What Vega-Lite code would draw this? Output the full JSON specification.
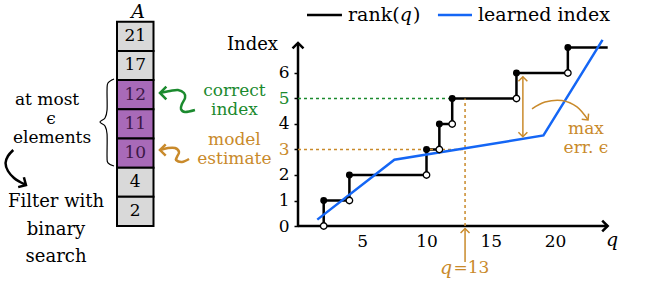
{
  "$schema": "https://vega.github.io/schema/vega-lite/v6.json",
  "width": 664,
  "height": 285,
  "autosize": {"type": "fit", "contains": "padding"},
  "padding": 0,
  "config": {"view": {"stroke": null}, "font": "DejaVu Serif", "text": {"font": "DejaVu Serif", "fontSize": 18}},
  "resolve": {"scale": {"x": "independent", "y": "independent"}},
  "layer": [
    {
      "encoding": {
        "x": {"field": "q", "type": "quantitative", "scale": {"domain": [-23.191, 28.482], "nice": false, "zero": false},
              "axis": {"title": null, "values": [5, 10, 15, 20], "domain": false, "ticks": false, "tickSize": 0, "grid": false, "offset": -59, "labelPadding": 7,
                       "labelFont": "DejaVu Serif", "labelFontSize": 17, "labelColor": "#000", "labelFlush": false, "labelOverlap": false}},
        "y": {"field": "idx", "type": "quantitative", "scale": {"domain": [-2.3137, 8.8627], "nice": false, "zero": false},
              "axis": {"title": null, "values": [0, 1, 2, 3, 4, 5, 6], "domain": false, "ticks": true, "tickSize": 4, "tickWidth": 1.5, "tickColor": "#000", "grid": false, "offset": -298, "labelPadding": 5,
                       "labelFont": "DejaVu Serif", "labelFontSize": 17, "labelFlush": false, "labelOverlap": false,
                       "labelColor": {"condition": [{"test": "datum.value == 5", "value": "#1b8a2e"}, {"test": "datum.value == 3", "value": "#c98a2b"}], "value": "#000"}}}
      },
      "layer": [
        {"data": {"values": [{"q": 0, "idx": 0, "q2": 24.1, "idx2": 0}, {"q": 0, "idx": 0, "q2": 0, "idx2": 7.18}]},
         "mark": {"type": "rule", "strokeWidth": 2.5, "color": "#000"},
         "encoding": {"x2": {"field": "q2"}, "y2": {"field": "idx2"}}},
        {"data": {"values": [{"q": 2, "idx": 0}, {"q": 2, "idx": 1}, {"q": 4, "idx": 2}, {"q": 10, "idx": 3}, {"q": 11, "idx": 4}, {"q": 12, "idx": 5}, {"q": 17, "idx": 6}, {"q": 21, "idx": 7}, {"q": 24.1, "idx": 7}]},
         "mark": {"type": "line", "interpolate": "step-after", "color": "#000", "strokeWidth": 2.5},
         "encoding": {"order": {"value": null}}},
        {"data": {"values": [{"q": 0, "idx": 5, "q2": 12, "idx2": 5}]},
         "mark": {"type": "rule", "strokeWidth": 1.5, "color": "#1b8a2e", "strokeDash": [3, 3]},
         "encoding": {"x2": {"field": "q2"}, "y2": {"field": "idx2"}}},
        {"data": {"values": [{"q": 0, "idx": 3, "q2": 13, "idx2": 3}, {"q": 13, "idx": 0, "q2": 13, "idx2": 5}]},
         "mark": {"type": "rule", "strokeWidth": 1.5, "color": "#c98a2b", "strokeDash": [3, 3]},
         "encoding": {"x2": {"field": "q2"}, "y2": {"field": "idx2"}}},
        {"data": {"values": [{"q": 1.5, "idx": 0.25}, {"q": 7.5, "idx": 2.6}, {"q": 19.1, "idx": 3.55}, {"q": 23.7, "idx": 7.3}]},
         "mark": {"type": "line", "color": "#1466f5", "strokeWidth": 2.5}},
        {"data": {"values": [{"q": 2, "idx": 1}, {"q": 4, "idx": 2}, {"q": 10, "idx": 3}, {"q": 11, "idx": 4}, {"q": 12, "idx": 5}, {"q": 17, "idx": 6}, {"q": 21, "idx": 7}]},
         "mark": {"type": "point", "filled": true, "color": "#000", "size": 48, "opacity": 1}},
        {"data": {"values": [{"q": 2, "idx": 0}, {"q": 4, "idx": 1}, {"q": 10, "idx": 2}, {"q": 11, "idx": 3}, {"q": 12, "idx": 4}, {"q": 17, "idx": 5}, {"q": 21, "idx": 6}]},
         "mark": {"type": "point", "filled": true, "fill": "#fff", "stroke": "#000", "strokeWidth": 1.3, "size": 42, "opacity": 1}},
        {"data": {"values": [{"q": 0.7, "idx": 8.27, "q2": 3.42, "idx2": 8.27}]},
         "mark": {"type": "rule", "strokeWidth": 2.5, "color": "#000"},
         "encoding": {"x2": {"field": "q2"}, "y2": {"field": "idx2"}}},
        {"data": {"values": [{"q": 10.89, "idx": 8.27, "q2": 13.54, "idx2": 8.27}]},
         "mark": {"type": "rule", "strokeWidth": 2.5, "color": "#1466f5"},
         "encoding": {"x2": {"field": "q2"}, "y2": {"field": "idx2"}}},
        {"data": {"values": [{"q": 13, "idx": -1.41, "q2": 13, "idx2": -0.1}, {"q": 17.5, "idx": 3.5, "q2": 17.5, "idx2": 5.85}]},
         "mark": {"type": "rule", "strokeWidth": 1.5, "color": "#c98a2b"},
         "encoding": {"x2": {"field": "q2"}, "y2": {"field": "idx2"}}},
        {"data": {"values": [{"q": 0, "idx": 7.18}]},
         "mark": {"type": "point", "shape": "M-1,1L0,0L1,1", "filled": false, "stroke": "#000", "strokeWidth": 2.5, "size": 120, "angle": 0, "opacity": 1}},
        {"data": {"values": [{"q": 24.1, "idx": 0}]},
         "mark": {"type": "point", "shape": "M-1,1L0,0L1,1", "filled": false, "stroke": "#000", "strokeWidth": 2.5, "size": 120, "angle": 90, "opacity": 1}},
        {"data": {"values": [{"q": 13, "idx": -0.1}, {"q": 17.5, "idx": 5.85}]},
         "mark": {"type": "point", "shape": "M-1,1L0,0L1,1", "filled": false, "stroke": "#c98a2b", "strokeWidth": 1.5, "size": 80, "angle": 0, "opacity": 1}},
        {"data": {"values": [{"q": 17.5, "idx": 3.5}]},
         "mark": {"type": "point", "shape": "M-1,1L0,0L1,1", "filled": false, "stroke": "#c98a2b", "strokeWidth": 1.5, "size": 80, "angle": 180, "opacity": 1}},
        {"data": {"values": [{"q": 18.21, "idx": 4.59}, {"q": 19.22, "idx": 4.86}, {"q": 20.54, "idx": 4.92}, {"q": 21.71, "idx": 4.67}, {"q": 22.57, "idx": 4.16}]},
         "mark": {"type": "line", "interpolate": "cardinal", "color": "#c98a2b", "strokeWidth": 1.5},
         "encoding": {"order": {"value": null}}},
        {"data": {"values": [{"q": 22.57, "idx": 4.16}]},
         "mark": {"type": "point", "shape": "M-1,1L0,0L1,1", "filled": false, "stroke": "#c98a2b", "strokeWidth": 1.5, "size": 80, "angle": 140, "opacity": 1}},
        {"data": {"values": [{"q": -14.32, "idx": 5.765}, {"q": -14.79, "idx": 5.608}, {"q": -14.86, "idx": 5.333}, {"q": -14.86, "idx": 4.549}, {"q": -15.02, "idx": 4.235}, {"q": -15.41, "idx": 4.078}, {"q": -15.02, "idx": 3.922}, {"q": -14.86, "idx": 3.608}, {"q": -14.86, "idx": 2.706}, {"q": -14.79, "idx": 2.471}, {"q": -14.32, "idx": 2.353}]},
         "mark": {"type": "line", "interpolate": "cardinal", "color": "#000", "strokeWidth": 1.2},
         "encoding": {"order": {"value": null}}},
        {"data": {"values": [{"q": -22.16, "idx": 2.98}, {"q": -22.57, "idx": 2.745}, {"q": -22.76, "idx": 2.471}, {"q": -22.57, "idx": 2.157}, {"q": -22.1, "idx": 1.882}, {"q": -21.63, "idx": 1.725}, {"q": -21.17, "idx": 1.608}]},
         "mark": {"type": "line", "interpolate": "cardinal", "color": "#000", "strokeWidth": 2.5},
         "encoding": {"order": {"value": null}}},
        {"data": {"values": [{"q": -21.17, "idx": 1.608}]},
         "mark": {"type": "point", "shape": "M-1,1L0,0L1,1", "filled": false, "stroke": "#000", "strokeWidth": 2.5, "size": 130, "angle": 120, "opacity": 1}},
        {"data": {"values": [{"q": -10.74, "idx": 5.216}, {"q": -9.96, "idx": 5.294}, {"q": -9.34, "idx": 5.333}, {"q": -8.87, "idx": 5.216}, {"q": -8.79, "idx": 5.02}, {"q": -9.03, "idx": 4.784}, {"q": -9.11, "idx": 4.588}, {"q": -8.79, "idx": 4.471}, {"q": -8.02, "idx": 4.549}]},
         "mark": {"type": "line", "interpolate": "cardinal", "color": "#1b8a2e", "strokeWidth": 2.5},
         "encoding": {"order": {"value": null}}},
        {"data": {"values": [{"q": -10.74, "idx": 5.216}]},
         "mark": {"type": "point", "shape": "M-1,1L0,0L1,1", "filled": false, "stroke": "#1b8a2e", "strokeWidth": 2.5, "size": 160, "angle": 270, "opacity": 1}},
        {"data": {"values": [{"q": -10.74, "idx": 2.98}, {"q": -10.12, "idx": 3.059}, {"q": -9.57, "idx": 3.059}, {"q": -9.26, "idx": 2.902}, {"q": -9.42, "idx": 2.706}, {"q": -9.49, "idx": 2.588}, {"q": -9.03, "idx": 2.51}, {"q": -8.48, "idx": 2.627}]},
         "mark": {"type": "line", "interpolate": "cardinal", "color": "#c98a2b", "strokeWidth": 2.5},
         "encoding": {"order": {"value": null}}},
        {"data": {"values": [{"q": -10.74, "idx": 2.98}]},
         "mark": {"type": "point", "shape": "M-1,1L0,0L1,1", "filled": false, "stroke": "#c98a2b", "strokeWidth": 2.5, "size": 130, "angle": 270, "opacity": 1}},
        {"data": {"values": [{"q": -1.56, "idx": 7.1, "label": "Index"}]},
         "mark": {"type": "text", "align": "right", "baseline": "middle", "fontSize": 18, "color": "#000"},
         "encoding": {"text": {"field": "label"}}},
        {"data": {"values": [{"q": 3.89, "idx": 8.27, "label": "rank("}, {"q": 14.01, "idx": 8.27, "label": "learned index"}, {"q": 8.95, "idx": 8.27, "label": ")"}]},
         "mark": {"type": "text", "align": "left", "baseline": "middle", "fontSize": 19, "color": "#000"},
         "encoding": {"text": {"field": "label"}}},
        {"data": {"values": [{"q": 8.4, "idx": 8.27, "label": "q"}, {"q": 24.44, "idx": -0.55, "label": "q"}, {"q": -12.45, "idx": 8.39, "label": "A"}]},
         "mark": {"type": "text", "align": "center", "baseline": "middle", "fontSize": 19, "fontStyle": "italic", "color": "#000"},
         "encoding": {"text": {"field": "label"}}},
        {"data": {"values": [{"q": -19.53, "idx": 4.941, "label": "at most"}, {"q": -19.22, "idx": 4.196, "label": "ϵ"}, {"q": -19.14, "idx": 3.451, "label": "elements"}]},
         "mark": {"type": "text", "align": "center", "baseline": "middle", "fontSize": 17, "color": "#000"},
         "encoding": {"text": {"field": "label"}}},
        {"data": {"values": [{"q": -18.83, "idx": 0.94, "label": "Filter with"}, {"q": -18.83, "idx": -0.157, "label": "binary"}, {"q": -18.83, "idx": -1.216, "label": "search"}]},
         "mark": {"type": "text", "align": "center", "baseline": "middle", "fontSize": 18, "color": "#000"},
         "encoding": {"text": {"field": "label"}}},
        {"data": {"values": [{"q": -4.95, "idx": 5.294, "label": "correct"}, {"q": -4.95, "idx": 4.549, "label": "index"}]},
         "mark": {"type": "text", "align": "center", "baseline": "middle", "fontSize": 17, "color": "#1b8a2e"},
         "encoding": {"text": {"field": "label"}}},
        {"data": {"values": [{"q": -4.95, "idx": 3.373, "label": "model"}, {"q": -4.95, "idx": 2.627, "label": "estimate"}, {"q": 22.41, "idx": 3.804, "label": "max"}, {"q": 22.41, "idx": 3.059, "label": "err. ϵ"}]},
         "mark": {"type": "text", "align": "center", "baseline": "middle", "fontSize": 17, "color": "#c98a2b"},
         "encoding": {"text": {"field": "label"}}},
        {"data": {"values": [{"q": 11.99, "idx": -1.65, "label": "q"}]},
         "mark": {"type": "text", "align": "right", "baseline": "middle", "fontSize": 19, "fontStyle": "italic", "color": "#c98a2b"},
         "encoding": {"text": {"field": "label"}}},
        {"data": {"values": [{"q": 12.1, "idx": -1.65, "label": "=13"}]},
         "mark": {"type": "text", "align": "left", "baseline": "middle", "fontSize": 17, "color": "#c98a2b"},
         "encoding": {"text": {"field": "label"}}}
      ]
    },
    {
      "data": {"values": [{"arr": "A", "v": 21}, {"arr": "A", "v": 17}, {"arr": "A", "v": 12}, {"arr": "A", "v": 11}, {"arr": "A", "v": 10}, {"arr": "A", "v": 4}, {"arr": "A", "v": 2}]},
      "encoding": {
        "x": {"field": "arr", "type": "nominal", "scale": {"type": "band", "paddingInner": 0, "paddingOuter": 0, "range": [117, 153.5]}, "axis": null},
        "y": {"field": "v", "type": "ordinal", "sort": "descending", "scale": {"type": "band", "paddingInner": 0, "paddingOuter": 0, "range": [21.7, 226]}, "axis": null}
      },
      "layer": [
        {"mark": {"type": "rect", "stroke": "#000", "strokeWidth": 2},
         "encoding": {"fill": {"condition": {"test": "datum.v >= 10 && datum.v <= 12", "value": "#a86ab8"}, "value": "#d9d9d9"}}},
        {"mark": {"type": "text", "fontSize": 17, "align": "center", "baseline": "middle"},
         "encoding": {"text": {"field": "v"}, "color": {"condition": {"test": "datum.v >= 10 && datum.v <= 12", "value": "#3c1846"}, "value": "#000"}}}
      ]
    }
  ]
}
